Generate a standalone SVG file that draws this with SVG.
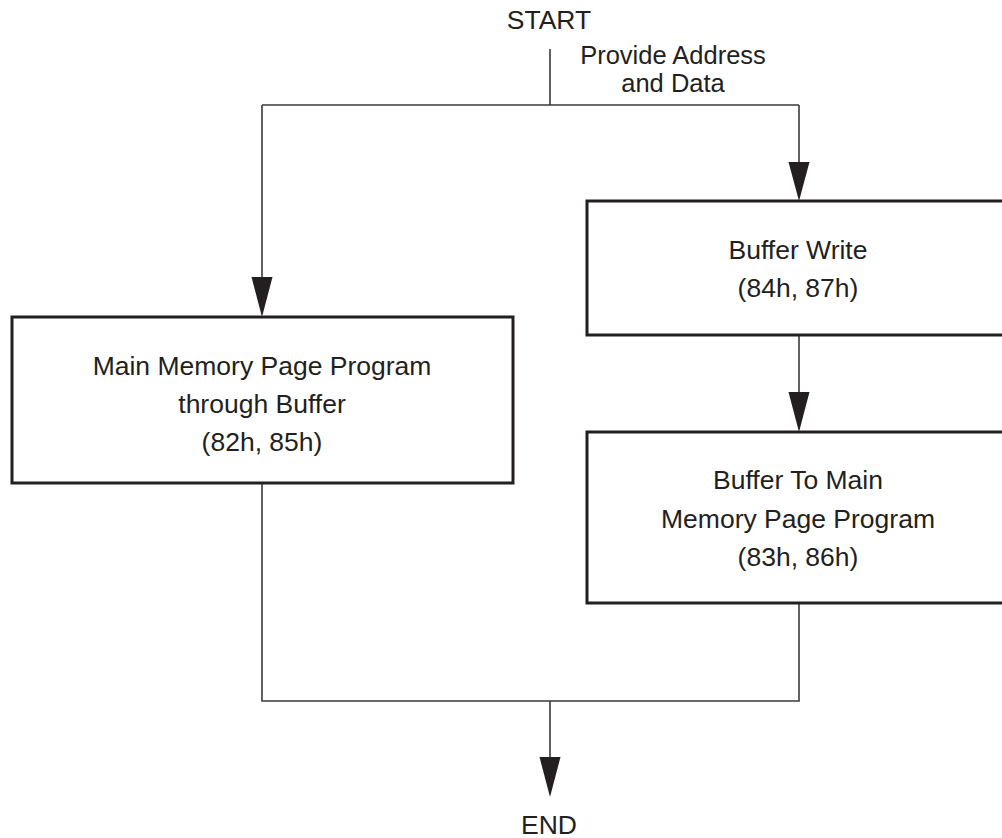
<svg xmlns="http://www.w3.org/2000/svg" width="1002" height="838" viewBox="0 0 1002 838">
<defs>
<style>
.box{fill:#fff;stroke:#231f20;stroke-width:3}
.ln{fill:none;stroke:#3a3a3a;stroke-width:1.6}
.ah{fill:#231f20}
.t{font-family:"Liberation Sans",Arial,Helvetica,sans-serif;font-size:26.5px;fill:#231f20;text-anchor:middle}
.lbl{font-size:25.5px}
</style>
</defs>
<rect width="1002" height="838" fill="#fff"/>
<g id="connectors">
<polyline class="ln" points="550,49 550,105"/>
<polyline class="ln" points="262,105 799,105"/>
<polyline class="ln" points="262,105 262,277"/>
<path class="ah" d="M251.5,277 L272.5,277 L262,317 Z"/>
<polyline class="ln" points="799,105 799,162"/>
<path class="ah" d="M788.5,162 L809.5,162 L799,201 Z"/>
<polyline class="ln" points="799,335 799,392"/>
<path class="ah" d="M788.5,392 L809.5,392 L799,432 Z"/>
<polyline class="ln" points="262,483 262,701 799,701 799,604"/>
<polyline class="ln" points="550,701 550,757"/>
<path class="ah" d="M539.5,757 L560.5,757 L550,797 Z"/>
</g>
<g id="start"><text class="t" x="549" y="29">START</text></g>
<g id="label-provide"><text class="t lbl" x="673" y="64">Provide Address</text><text class="t lbl" x="673" y="92">and Data</text></g>
<g id="node-main">
<rect class="box" x="12" y="317" width="501" height="166"/>
<text class="t" x="262" y="375">Main Memory Page Program</text>
<text class="t" x="262" y="413">through Buffer</text>
<text class="t" x="262" y="451">(82h, 85h)</text>
</g>
<g id="node-bufwrite">
<rect class="box" x="587" y="201" width="430" height="134"/>
<text class="t" x="798" y="259">Buffer Write</text>
<text class="t" x="798" y="297">(84h, 87h)</text>
</g>
<g id="node-buf2main">
<rect class="box" x="587" y="432" width="430" height="171"/>
<text class="t" x="798" y="489">Buffer To Main</text>
<text class="t" x="798" y="528">Memory Page Program</text>
<text class="t" x="798" y="566">(83h, 86h)</text>
</g>
<g id="end"><text class="t" x="549" y="834">END</text></g>
</svg>
